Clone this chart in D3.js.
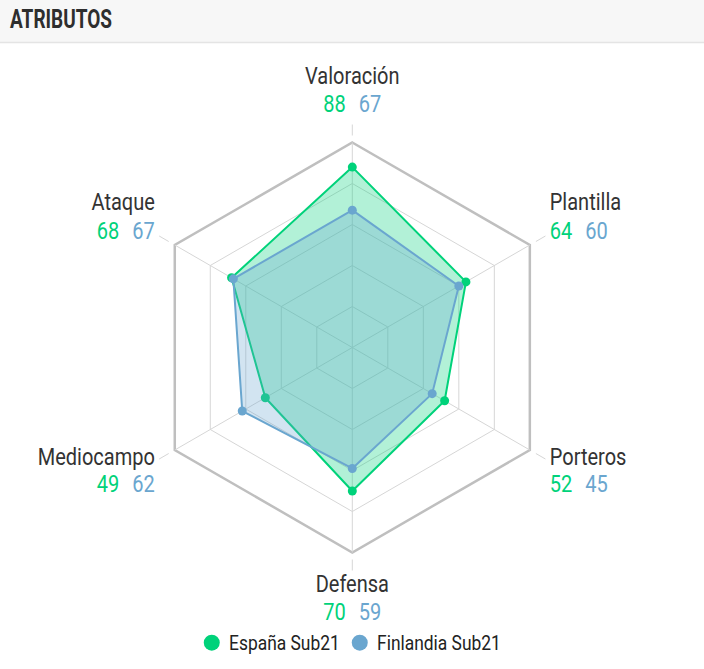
<!DOCTYPE html>
<html>
<head>
<meta charset="utf-8">
<script src="https://cdn.jsdelivr.net/npm/d3@7/dist/d3.min.js"></script>
<style>
  html, body { margin: 0; padding: 0; background: #fff; }
  svg { display: block; font-family: Roboto, "Noto Sans", sans-serif; }
</style>
</head>
<body>
<svg id="chart" width="704" height="669"></svg>
<script>
// ---- data ----
const title = "ATRIBUTOS";
const categories = ["Valoración", "Plantilla", "Porteros", "Defensa", "Mediocampo", "Ataque"];
const seriesNames = ["España Sub21", "Finlandia Sub21"];
const espana = [88, 64, 52, 70, 49, 68];
const finlandia = [67, 60, 45, 59, 62, 67];
const gridLevels = [20, 40, 60, 80, 100];
const colors = ["#00d27a", "#6aa6cf"];

// ---- layout ----
const W = 704, H = 669;
const cx = 352.3, cy = 347.5, R = 205;
const condense = 0.87;
const svg = d3.select("#chart");

// header
svg.append("rect").attr("x", 0).attr("y", 0).attr("width", W).attr("height", 42).attr("fill", "#f7f7f7");
svg.append("line").attr("x1", 0).attr("x2", W).attr("y1", 42.5).attr("y2", 42.5)
  .attr("stroke", "#e4e4e4").attr("stroke-width", 1.5);
svg.append("g").attr("transform", `translate(10,27.5) scale(0.76,1)`)
  .append("text").attr("font-size", 25).attr("font-weight", 700).attr("fill", "#2e2e2e").text(title);

const r = d3.scaleLinear().domain([0, 100]).range([0, R]);
const n = categories.length;
const angle = d3.scaleLinear().domain([0, n]).range([0, 2 * Math.PI]);
const pt = (a, rad) => [cx + rad * Math.sin(a), cy - rad * Math.cos(a)];

const g = svg.append("g");

// rings
gridLevels.forEach(lv => {
  const pts = d3.range(n).map(i => pt(angle(i), r(lv)));
  g.append("path")
    .attr("d", d3.line()(pts) + "Z")
    .attr("fill", "none")
    .attr("stroke", lv === 100 ? "#bfbfbf" : "#d6d6d6")
    .attr("stroke-width", lv === 100 ? 2.5 : 1);
});
// spokes
d3.range(n).forEach(i => {
  const a = angle(i);
  const p0 = pt(a, 0), p1 = pt(a, R);
  g.append("line").attr("x1", p0[0]).attr("y1", p0[1]).attr("x2", p1[0]).attr("y2", p1[1])
    .attr("stroke", "#d6d6d6").attr("stroke-width", 1);
  const t0 = pt(a, R + 7), t1 = pt(a, R + 18);
  g.append("line").attr("x1", t0[0]).attr("y1", t0[1]).attr("x2", t1[0]).attr("y2", t1[1])
    .attr("stroke", "#d6d6d6").attr("stroke-width", 1);
});

// series
const radial = d3.lineRadial()
  .angle((d, i) => angle(i))
  .radius(d => r(d))
  .curve(d3.curveLinearClosed);

[espana, finlandia].forEach((vals, si) => {
  const sg = svg.append("g").attr("transform", `translate(${cx},${cy})`);
  sg.append("path").attr("d", radial(vals))
    .attr("fill", colors[si]).attr("fill-opacity", 0.3)
    .attr("stroke", colors[si]).attr("stroke-width", 2).attr("stroke-linejoin", "round");
  sg.selectAll("circle").data(vals).join("circle")
    .attr("cx", (d, i) => r(d) * Math.sin(angle(i)))
    .attr("cy", (d, i) => -r(d) * Math.cos(angle(i)))
    .attr("r", 4.5)
    .attr("fill", colors[si]);
});

// labels
const labelR = R + 23;
const offsets = [[-36, -8], [-24, 5], [3, 31], [16, 44.5], [3, 31], [-24, 5]];
categories.forEach((c, i) => {
  const a = angle(i);
  const [x, y] = pt(a, labelR);
  const s = Math.sin(a);
  const anchor = Math.abs(s) < 0.01 ? "middle" : (s > 0 ? "start" : "end");
  const lg = svg.append("g").attr("transform", `translate(${x},${y}) scale(${condense},1)`);
  lg.append("text").attr("y", offsets[i][0]).attr("text-anchor", anchor)
    .attr("font-size", 23).attr("fill", "#333").text(c);
  const vt = lg.append("text").attr("y", offsets[i][1]).attr("text-anchor", anchor)
    .attr("font-size", 23);
  vt.append("tspan").attr("fill", colors[0]).text(espana[i]);
  vt.append("tspan").attr("fill", colors[1]).attr("dx", 15).text(finlandia[i]);
});

// legend
const legend = svg.append("g");
const items = seriesNames.map((name, i) => {
  const ig = legend.append("g");
  ig.append("circle").attr("cx", 0).attr("cy", -7).attr("r", 8).attr("fill", colors[i]);
  const tg = ig.append("g").attr("transform", `translate(17.3,0) scale(${condense},1)`);
  tg.append("text").attr("font-size", 20).attr("fill", "#222").text(name);
  const w = 17.3 + tg.select("text").node().getComputedTextLength() * condense;
  return { ig, w };
});
const gap = 20;
const total = 8 + d3.sum(items, d => d.w) + gap * (items.length - 1);
let lx = cx - total / 2 + 8;
items.forEach(it => {
  it.ig.attr("transform", `translate(${lx},649.7)`);
  lx += it.w + gap;
});
</script>
</body>
</html>
